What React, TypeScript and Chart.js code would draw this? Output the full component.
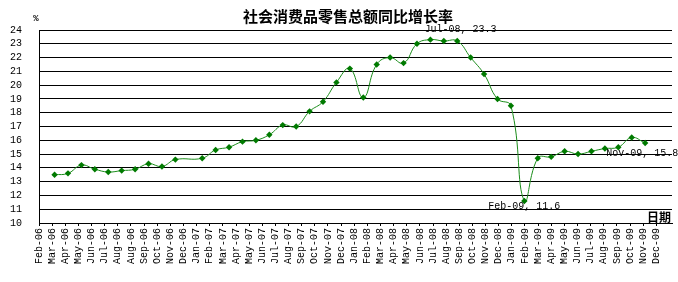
import React, { useEffect, useRef } from 'react';
import { Chart, registerables } from 'chart.js';

Chart.register(...registerables);

// ---- data ----
const MONTHS = [
  'Mar-06', 'Apr-06', 'May-06', 'Jun-06', 'Jul-06', 'Aug-06', 'Sep-06', 'Oct-06', 'Nov-06', 'Dec-06',
  'Feb-07', 'Mar-07', 'Apr-07', 'May-07', 'Jun-07', 'Jul-07', 'Aug-07', 'Sep-07', 'Oct-07', 'Nov-07', 'Dec-07',
  'Jan-08', 'Feb-08', 'Mar-08', 'Apr-08', 'May-08', 'Jun-08', 'Jul-08', 'Aug-08', 'Sep-08', 'Oct-08', 'Nov-08', 'Dec-08',
  'Jan-09', 'Feb-09', 'Mar-09', 'Apr-09', 'May-09', 'Jun-09', 'Jul-09', 'Aug-09', 'Sep-09', 'Oct-09', 'Nov-09',
];
const VALUES = [
  13.5, 13.6, 14.2, 13.9, 13.7, 13.8, 13.9, 14.3, 14.1, 14.6,
  14.7, 15.3, 15.5, 15.9, 16.0, 16.4, 17.1, 17.0, 18.1, 18.8, 20.2,
  21.2, 19.1, 21.5, 22.0, 21.6, 23.0, 23.3, 23.2, 23.2, 22.0, 20.8, 19.0,
  18.5, 11.6, 14.7, 14.8, 15.2, 15.0, 15.2, 15.4, 15.5, 16.2, 15.8,
];
const X_TICK_LABELS = [
  'Feb-06', 'Mar-06', 'Apr-06', 'May-06', 'Jun-06', 'Jul-06', 'Aug-06', 'Aug-06', 'Sep-06', 'Oct-06', 'Nov-06', 'Dec-06',
  'Jan-07', 'Feb-07', 'Mar-07', 'Apr-07', 'May-07', 'Jun-07', 'Jul-07', 'Aug-07', 'Sep-07', 'Oct-07', 'Nov-07', 'Dec-07',
  'Jan-08', 'Feb-08', 'Mar-08', 'Apr-08', 'May-08', 'Jun-08', 'Jul-08', 'Aug-08', 'Sep-08', 'Oct-08', 'Nov-08', 'Dec-08',
  'Jan-09', 'Feb-09', 'Mar-09', 'Apr-09', 'May-09', 'Jun-09', 'Jul-09', 'Aug-09', 'Sep-09', 'Oct-09', 'Nov-09', 'Dec-09',
];
const Y_MIN = 10;
const Y_MAX = 24;
const Y_STEP = 1;
const TITLE = '社会消费品零售总额同比增长率';
const Y_UNIT = '%';
const X_TITLE = '日期';
const LABELLED_MONTHS = ['Jul-08', 'Feb-09', 'Nov-09'];

// ---- helpers ----
const MON_NAMES = ['Jan', 'Feb', 'Mar', 'Apr', 'May', 'Jun', 'Jul', 'Aug', 'Sep', 'Oct', 'Nov', 'Dec'];
function monthIndex(label: string): number {
  const [m, y] = label.split('-');
  return (2000 + Number(y) - 2006) * 12 + MON_NAMES.indexOf(m) - 1;
}

const X_MIN = -0.16;
const X_MAX = 47.0;
const TICK_STEP = 0.9785;

const MONO = '"Liberation Mono", "DejaVu Sans Mono", monospace';
const CJK = '"Noto Sans CJK SC", sans-serif';

const labelOffsets: Record<string, { align: CanvasTextAlign; dx: number; dy: number }> = {
  'Jul-08': { align: 'left', dx: -6, dy: -10 },
  'Feb-09': { align: 'center', dx: 0, dy: 5 },
  'Nov-09': { align: 'center', dx: -3, dy: 10 },
};

const overlayPlugin = {
  id: 'overlay',
  afterDraw(chart: any) {
    const { ctx, scales } = chart;
    const xs = scales.x;
    const ys = scales.y;
    ctx.save();
    ctx.fillStyle = '#000';
    ctx.font = `bold 15px ${CJK}`;
    ctx.textAlign = 'center';
    ctx.textBaseline = 'middle';
    ctx.fillText(TITLE, 348, 16);
    ctx.font = `bold 9px ${MONO}`;
    ctx.fillText(Y_UNIT, 36, 19);
    ctx.font = `bold 12px ${CJK}`;
    ctx.fillText(X_TITLE, 659, 217);
    ctx.font = `10px ${MONO}`;
    LABELLED_MONTHS.forEach((m) => {
      const i = MONTHS.indexOf(m);
      if (i < 0) return;
      const px = xs.getPixelForValue(monthIndex(m));
      const py = ys.getPixelForValue(VALUES[i]);
      const o = labelOffsets[m];
      ctx.textAlign = o.align;
      ctx.textBaseline = 'middle';
      ctx.fillText(`${m}, ${VALUES[i].toFixed(1)}`, px + o.dx, py + o.dy);
    });
    ctx.restore();
  },
};

export default function App() {
  const ref = useRef<HTMLCanvasElement | null>(null);
  useEffect(() => {
    if (!ref.current) return;
    const chart = new Chart(ref.current, {
      type: 'line',
      data: {
        datasets: [
          {
            data: MONTHS.map((m, i) => ({ x: monthIndex(m), y: VALUES[i] })),
            borderColor: '#1a8c1a',
            borderWidth: 1,
            backgroundColor: '#007a00',
            pointBackgroundColor: '#007a00',
            pointBorderColor: '#007a00',
            pointStyle: 'rectRot',
            pointRadius: 3.2,
            pointBorderWidth: 0,
            tension: 0.45,
            fill: false,
          },
        ],
      },
      options: {
        animation: false,
        responsive: false,
        maintainAspectRatio: false,
        layout: { padding: { top: 30, right: 6, left: 0, bottom: 0 } },
        plugins: {
          legend: { display: false },
          title: { display: false },
          tooltip: { enabled: false },
        },
        scales: {
          x: {
            type: 'linear',
            min: X_MIN,
            max: X_MAX,
            afterBuildTicks(axis: any) {
              axis.ticks = X_TICK_LABELS.map((_, k) => ({ value: X_MIN + k * TICK_STEP }));
            },
            afterFit(axis: any) {
              axis.height = 59;
            },
            ticks: {
              autoSkip: false,
              maxRotation: 90,
              minRotation: 90,
              padding: 2,
              color: '#000',
              font: { family: MONO, size: 10 },
              callback: (_v: any, idx: number) => X_TICK_LABELS[idx],
            },
            grid: {
              display: true,
              drawOnChartArea: false,
              drawTicks: true,
              tickLength: 3,
              color: '#000',
              lineWidth: 1,
            },
            border: { display: true, color: '#000', width: 1 },
          },
          y: {
            min: Y_MIN,
            max: Y_MAX,
            afterFit(axis: any) {
              axis.width = 39;
            },
            ticks: {
              stepSize: Y_STEP,
              autoSkip: false,
              padding: 17,
              color: '#000',
              font: { family: MONO, size: 10 },
            },
            grid: {
              color: '#000',
              lineWidth: 1,
              drawTicks: false,
            },
            border: { display: true, color: '#000', width: 1 },
          },
        },
      },
      plugins: [overlayPlugin],
    });
    return () => chart.destroy();
  }, []);
  return (
    <div style={{ position: 'fixed', left: 0, top: 0, width: 678, height: 282, background: '#fff' }}>
      <canvas ref={ref} width={678} height={282} style={{ display: 'block', width: 678, height: 282 }} />
    </div>
  );
}
